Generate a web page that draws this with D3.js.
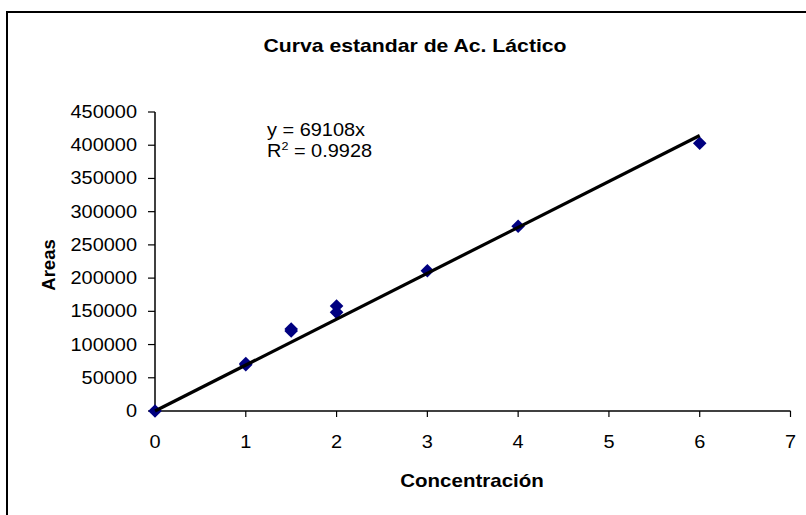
<!DOCTYPE html>
<html><head><meta charset="utf-8">
<script src="https://cdn.jsdelivr.net/npm/d3@7"></script>
<style>body{margin:0;background:#fff}svg{display:block}text{font-family:"Liberation Sans",Arial,sans-serif}</style>
</head><body><svg id="c" width="806" height="515"></svg>
<script>
const concentracion = [0, 1, 1, 1.5, 1.5, 2, 2, 3, 4, 6];
const areas = [0, 69500, 71500, 120500, 123500, 148500, 158000, 211000, 278000, 403000];
const slope = 69108;
const trendX = [0, 6];
const xTicks = [0, 1, 2, 3, 4, 5, 6, 7];
const yTicks = [0, 50000, 100000, 150000, 200000, 250000, 300000, 350000, 400000, 450000];
const title = "Curva estandar de Ac. Láctico";
const xTitle = "Concentración";
const yTitle = "Areas";
const eq1 = "y = 69108x";
const r2 = "0.9928";

const svg = d3.select("#c");
const SX = 1.14;
// frame
svg.append("rect").attr("x",7).attr("y",12).attr("width",900).attr("height",600)
  .attr("fill","#fff").attr("stroke","#000").attr("stroke-width",2);

const x = d3.scaleLinear().domain([0,7]).range([155,790.5]);
const y = d3.scaleLinear().domain([0,450000]).range([411,112]);

function htext(g, tx, ty, str, size, weight, anchor){
  const t = g.append("g").attr("transform",`translate(${tx},${ty}) scale(${SX},1)`)
    .append("text").attr("font-size",size).attr("font-weight",weight||"normal")
    .attr("text-anchor",anchor||"start").attr("fill","#000").text(str);
  return t;
}

// title
htext(svg, 415, 52, title, 18.6, "bold", "middle");

// axes
const gx = svg.append("g").attr("transform",`translate(0,${y(0)})`);
gx.append("line").attr("x1",x(0)).attr("x2",x(7)).attr("stroke","#000").attr("stroke-width",1.5);
xTicks.forEach(v=>{
  gx.append("line").attr("x1",x(v)).attr("x2",x(v)).attr("y1",0).attr("y2",6).attr("stroke","#000").attr("stroke-width",1.2);
  htext(gx, x(v), 37, String(v), 17.5, "normal", "middle");
});
const gy = svg.append("g").attr("transform",`translate(${x(0)},0)`);
gy.append("line").attr("y1",y(0)).attr("y2",y(450000)).attr("stroke","#000").attr("stroke-width",1.5);
yTicks.forEach(v=>{
  gy.append("line").attr("x1",-7).attr("x2",0).attr("y1",y(v)).attr("y2",y(v)).attr("stroke","#000").attr("stroke-width",1.2);
  htext(gy, -18, y(v)+6, String(v), 17.5, "normal", "end");
});

// axis titles
htext(svg, 472, 487, xTitle, 18, "bold", "middle");
svg.append("text").attr("transform",`translate(55,265) rotate(-90)`)
  .attr("font-size",18.5).attr("font-weight","bold").attr("text-anchor","middle").text(yTitle);

// markers
const diamond = "M0,-6.8L6.8,0L0,6.8L-6.8,0Z";
svg.append("g").selectAll("path").data(concentracion.map((c,i)=>[c,areas[i]])).join("path")
  .attr("d",diamond).attr("fill","#000080")
  .attr("transform",d=>`translate(${x(d[0])},${y(d[1])})`);

// trendline
svg.append("path").datum(trendX.map(v=>[v,slope*v]))
  .attr("d",d3.line().x(d=>x(d[0])).y(d=>y(d[1])))
  .attr("stroke","#000").attr("stroke-width",3.2).attr("fill","none");

// equation
htext(svg, 267, 136, eq1, 17.5, "normal", "start");
const rt = htext(svg, 267, 157, "R", 17.5, "normal", "start");
rt.append("tspan").attr("font-size",11).attr("dy",-7).text("2");
rt.append("tspan").attr("font-size",17.5).attr("dy",7).text(" = " + r2);
</script></body></html>
